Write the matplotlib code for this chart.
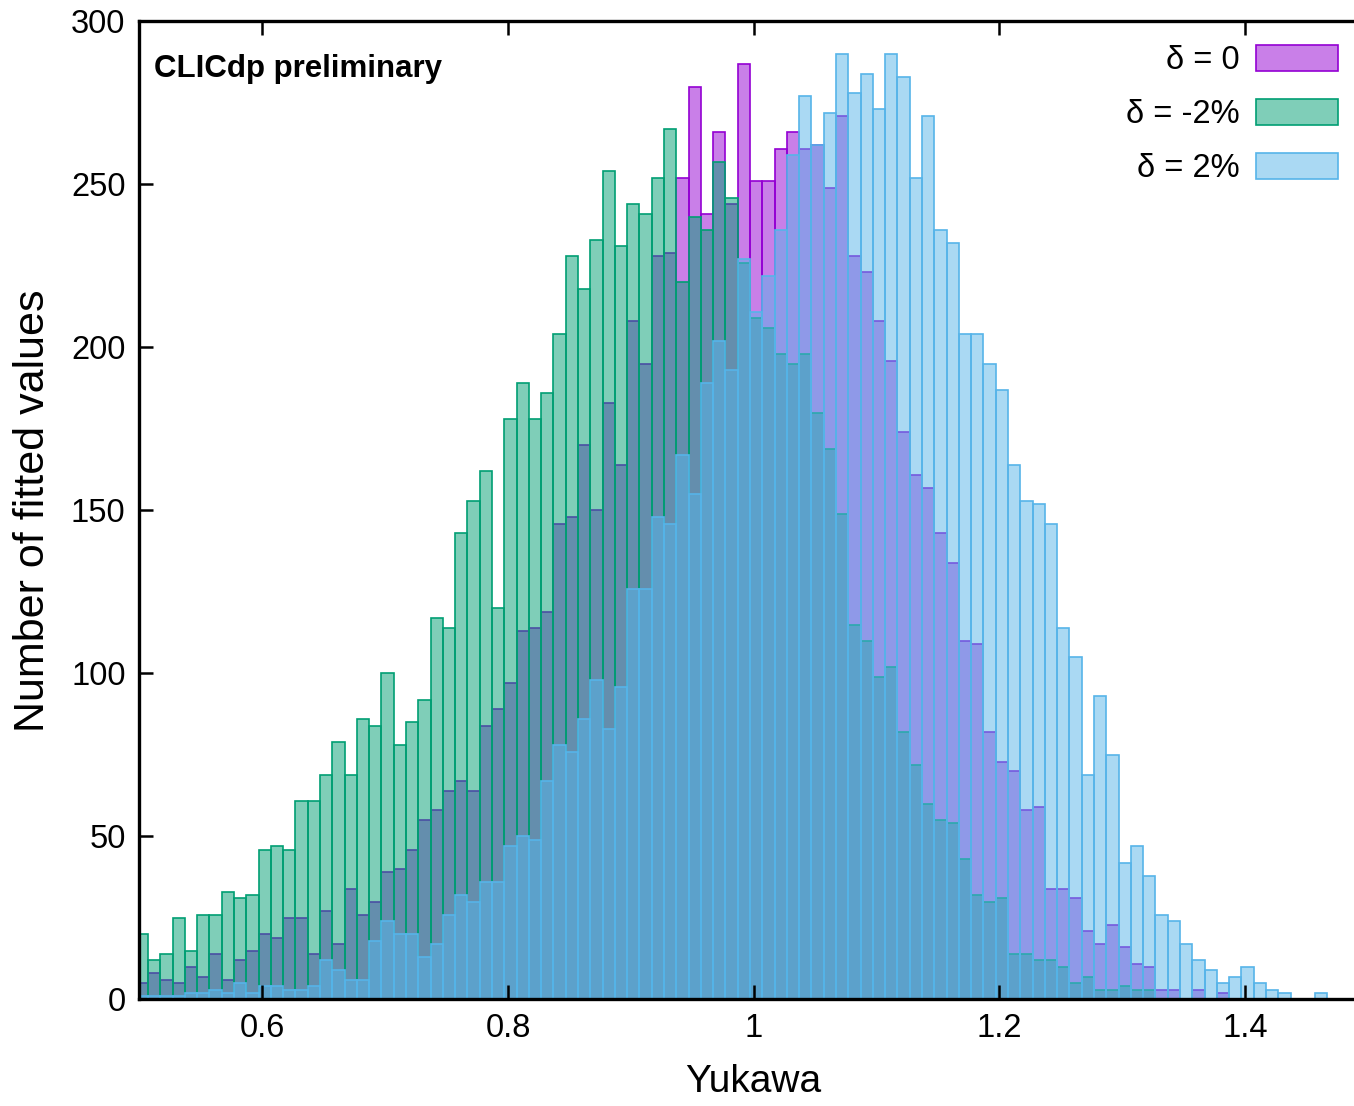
import numpy as np
import matplotlib
matplotlib.use('Agg')
import matplotlib.pyplot as plt
from matplotlib.colors import to_rgba

plt.rcParams['font.family'] = ['Liberation Sans', 'DejaVu Sans']

# histogram binning of the fitted Yukawa coupling
bin_lo = 0.497
bin_width = 0.01

# counts per bin, 100 bins
counts_nominal = [
    5, 8, 6, 5, 10, 7, 14, 6, 12, 15,
    20, 19, 25, 25, 14, 27, 17, 34, 26, 30,
    39, 40, 46, 55, 58, 64, 67, 64, 84, 89,
    97, 113, 114, 119, 146, 148, 170, 150, 183, 164,
    208, 195, 228, 229, 252, 280, 241, 266, 244, 287,
    251, 251, 261, 266, 261, 262, 249, 271, 228, 223,
    208, 196, 174, 161, 157, 143, 134, 110, 109, 82,
    73, 70, 58, 59, 34, 34, 31, 21, 17, 23,
    16, 11, 10, 3, 3, 0, 3, 0, 2, 0,
    0, 0, 0, 0, 0, 0, 0, 0, 0, 0,
]

counts_minus2 = [
    20, 12, 14, 25, 15, 26, 26, 33, 31, 32,
    46, 47, 46, 61, 61, 69, 79, 69, 86, 84,
    100, 78, 85, 92, 117, 114, 143, 153, 162, 120,
    178, 189, 178, 186, 204, 228, 218, 233, 254, 231,
    244, 241, 252, 267, 220, 240, 236, 257, 246, 226,
    209, 206, 198, 195, 198, 180, 169, 149, 115, 110,
    99, 102, 82, 72, 60, 55, 54, 43, 32, 30,
    31, 14, 14, 12, 12, 10, 5, 7, 3, 3,
    4, 3, 3, 0, 0, 0, 0, 0, 0, 0,
    0, 0, 0, 0, 0, 0, 0, 0, 0, 0,
]

counts_plus2 = [
    1, 1, 1, 1, 2, 2, 3, 2, 5, 2,
    4, 4, 3, 3, 4, 12, 9, 6, 6, 18,
    24, 20, 20, 13, 17, 26, 32, 30, 36, 36,
    47, 50, 49, 67, 78, 76, 86, 98, 83, 96,
    126, 126, 148, 146, 167, 155, 189, 202, 193, 227,
    211, 222, 236, 259, 277, 262, 272, 290, 278, 284,
    273, 290, 283, 252, 271, 236, 232, 204, 204, 195,
    187, 164, 153, 152, 146, 114, 105, 69, 93, 75,
    42, 47, 38, 26, 24, 17, 12, 9, 5, 7,
    10, 5, 3, 2, 0, 0, 2, 0, 0, 0,
]

labels = ['δ = 0', 'δ = -2%', 'δ = 2%']
colors = ['#9400d3', '#009e73', '#56b4e9']

x_ticks = [0.6, 0.8, 1.0, 1.2, 1.4]
x_ticklabels = ['0.6', '0.8', '1', '1.2', '1.4']
y_ticks = [0, 50, 100, 150, 200, 250, 300]


def yukawa_histogram():
    fig = plt.figure(figsize=(13.54, 11.06), dpi=100)
    # axes run to x = 1.5, a little past the right edge of the canvas
    ax = fig.add_axes([0.1030, 0.0963, 0.9073, 0.8843])

    left_edges = bin_lo + bin_width * np.arange(len(counts_nominal))

    handles = []
    for counts, label, color in zip([counts_nominal, counts_minus2, counts_plus2], labels, colors):
        bars = ax.bar(left_edges, counts, width=bin_width, align='edge',
                      facecolor=to_rgba(color, 0.5), edgecolor=color,
                      linewidth=1.2, label=label)
        handles.append(bars)

    ax.set_xlim(0.5, 1.5)
    ax.set_ylim(0, 300)

    ax.set_xticks(x_ticks)
    ax.set_xticklabels(x_ticklabels)
    ax.set_yticks(y_ticks)

    ax.tick_params(direction='in', length=10, width=1.8, labelsize=23.5,
                   top=True, right=True, pad=10)
    for spine in ax.spines.values():
        spine.set_linewidth(2.4)

    ax.set_xlabel('Yukawa', fontsize=28, labelpad=14)
    ax.set_ylabel('Number of fitted values', fontsize=31, labelpad=13)

    ax.text(0.0115, 0.951, 'CLICdp preliminary', transform=ax.transAxes,
            fontsize=22.5, fontweight='bold', ha='left', va='center')

    ax.legend(handles=handles, loc='upper right', frameon=False,
              markerfirst=False, fontsize=23.5,
              handlelength=2.5, handleheight=0.83, handletextpad=0.5,
              labelspacing=0.70, borderpad=0, borderaxespad=0,
              bbox_to_anchor=(1338 / 1354, 1 - 45 / 1106),
              bbox_transform=fig.transFigure)

    fig.savefig('out.png', dpi=100)


yukawa_histogram()
